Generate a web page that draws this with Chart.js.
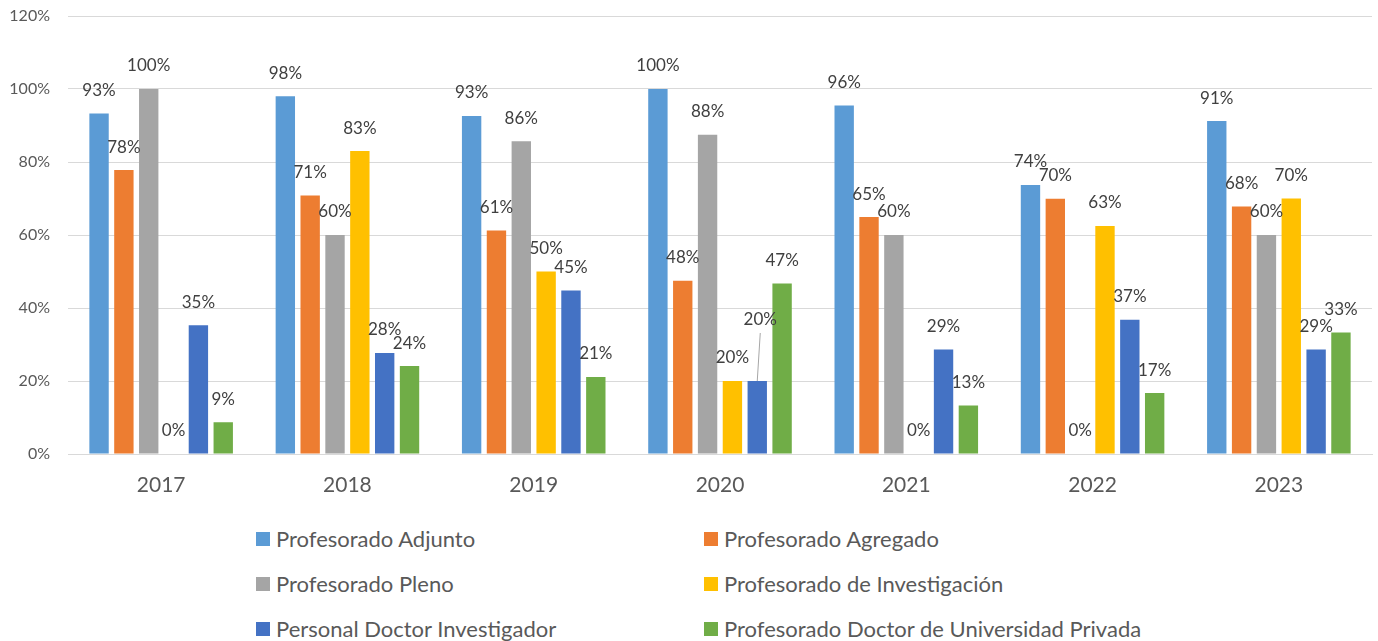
<!DOCTYPE html>
<html>
<head>
<meta charset="utf-8">
<script src="https://cdn.jsdelivr.net/npm/chart.js@4/dist/chart.umd.min.js"></script>
<style>
  html, body { margin: 0; padding: 0; background: #fff; }
  body { width: 1378px; height: 641px; position: relative; overflow: hidden; font-family: Lato, "Open Sans", sans-serif; }
  #wrap { position: absolute; left: 0; top: 0; width: 1378px; height: 505px; }
  #legend {
    position: absolute; left: 256px; top: 516px;
    display: grid; grid-template-columns: 448px 520px; grid-auto-rows: 45px;
  }
  .item { display: flex; align-items: center; font-size: 22px; color: #595959; white-space: nowrap; }
  .box { width: 14px; height: 14px; margin-right: 6px; flex: none; }
</style>
</head>
<body>
<div id="wrap"><canvas id="chart"></canvas></div>
<div id="legend"></div>
<script>
const years = ["2017", "2018", "2019", "2020", "2021", "2022", "2023"];
const seriesNames = [
  "Profesorado Adjunto",
  "Profesorado Agregado",
  "Profesorado Pleno",
  "Profesorado de Investigación",
  "Personal Doctor Investigador",
  "Profesorado Doctor de Universidad Privada"
];
const adjunto      = [93.3, 98.0, 92.6, 100, 95.5, 73.7, 91.2];
const agregado     = [77.8, 70.8, 61.2, 47.5, 64.9, 69.9, 67.8];
const pleno        = [100, 60.0, 85.7, 87.5, 60.0, 0, 60.0];
const investigacion = [0, 83.0, 50.0, 20.0, 0, 62.5, 70.0];
const pdi          = [35.3, 27.7, 44.8, 20.0, 28.6, 36.8, 28.6];
const privada      = [8.7, 24.1, 21.1, 46.7, 13.3, 16.7, 33.3];
const yTicks = [0, 20, 40, 60, 80, 100, 120];

const seriesValues = [adjunto, agregado, pleno, investigacion, pdi, privada];
const colors = ["#5B9BD5", "#ED7D31", "#A5A5A5", "#FFC000", "#4472C4", "#70AD47"];

// label moved up by hand in the original, with a leader line
const liftedLabels = [{ series: 4, index: 3, lift: 38 }];

const valueLabels = {
  id: "valueLabels",
  afterDatasetsDraw(chart) {
    const ctx = chart.ctx;
    ctx.save();
    ctx.font = "17px Lato, 'Open Sans', sans-serif";
    ctx.fillStyle = "#404040";
    ctx.textAlign = "center";
    ctx.textBaseline = "middle";
    chart.data.datasets.forEach((ds, i) => {
      chart.getDatasetMeta(i).data.forEach((bar, j) => {
        const lifted = liftedLabels.find(l => l.series === i && l.index === j);
        const lift = lifted ? lifted.lift : 0;
        const x = bar.x + (lifted ? 3 : 0);
        const y = bar.y - 23 - lift;
        ctx.fillText(Math.round(ds.data[j]) + "%", x, y);
        if (lifted) {
          ctx.strokeStyle = "#A6A6A6";
          ctx.lineWidth = 1;
          ctx.beginPath();
          ctx.moveTo(x, y + 13);
          ctx.lineTo(bar.x, bar.y);
          ctx.stroke();
        }
      });
    });
    ctx.restore();
  }
};

const ctx = document.getElementById("chart").getContext("2d");
new Chart(ctx, {
  type: "bar",
  data: {
    labels: years,
    datasets: seriesNames.map((name, i) => ({
      label: name,
      data: seriesValues[i],
      backgroundColor: colors[i],
      barPercentage: 0.78,
      categoryPercentage: 0.8
    }))
  },
  options: {
    responsive: true,
    maintainAspectRatio: false,
    animation: false,
    layout: { padding: { left: 0, right: 6, top: 16, bottom: 0 } },
    plugins: {
      legend: { display: false },
      tooltip: { enabled: false }
    },
    scales: {
      x: {
        grid: { display: false, drawTicks: false },
        border: { color: "#D9D9D9" },
        afterFit: axis => { axis.height = 51; },
        ticks: {
          color: "#595959",
          padding: 19,
          font: { family: "Lato", size: 21 }
        }
      },
      y: {
        min: 0,
        max: 120,
        afterBuildTicks: axis => { axis.ticks = yTicks.map(v => ({ value: v })); },
        afterFit: axis => {
          axis.width = 68;
          axis.paddingTop = 0;
          axis.paddingBottom = 0;
        },
        grid: { color: "#D9D9D9", drawTicks: false },
        border: { display: false },
        ticks: {
          color: "#595959",
          padding: 18,
          font: { family: "Lato", size: 16 },
          callback: v => v + "%"
        }
      }
    }
  },
  plugins: [valueLabels]
});

// Legend in two columns, as in the original
const legend = document.getElementById("legend");
seriesNames.forEach((name, i) => {
  const item = document.createElement("div");
  item.className = "item";
  item.innerHTML = `<span class="box" style="background:${colors[i]}"></span>${name}`;
  legend.appendChild(item);
});
</script>
</body>
</html>
